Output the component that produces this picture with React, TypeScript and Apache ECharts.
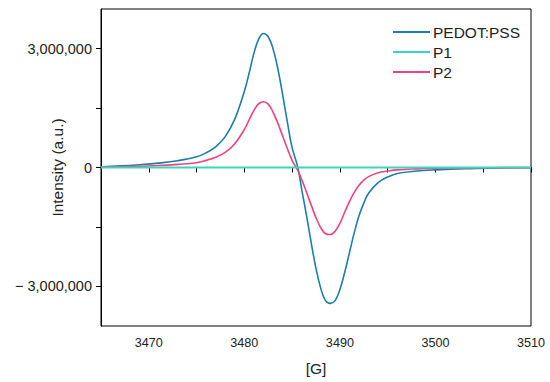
import React, { useEffect, useRef } from "react";
import * as echarts from "echarts";

const fieldG = [
  3465, 3467, 3469, 3471, 3473, 3475, 3476, 3477, 3478, 3479, 3480, 3480.5, 3481, 3481.5, 3482,
  3482.5, 3483, 3483.5, 3484, 3484.5, 3485, 3485.6, 3486, 3486.5, 3487, 3487.5, 3488, 3488.5,
  3489, 3489.5, 3490, 3490.5, 3491, 3491.5, 3492, 3492.5, 3493, 3494, 3495, 3496, 3498, 3500,
  3503, 3506, 3510,
];

// values in millions
const pedotPss = [
  0.02, 0.04, 0.07, 0.11, 0.17, 0.27, 0.37, 0.52, 0.78, 1.22, 1.92, 2.38, 2.88, 3.24, 3.38,
  3.3, 3.0, 2.5, 1.85, 1.15, 0.5, 0.0, -0.55, -1.2, -1.9, -2.55, -3.05, -3.36, -3.43, -3.36,
  -3.08, -2.65, -2.15, -1.65, -1.22, -0.9, -0.65, -0.38, -0.24, -0.15, -0.09, -0.06,
  -0.03, -0.015, -0.005,
];

const p2 = [
  0.01, 0.02, 0.03, 0.05, 0.08, 0.12, 0.18, 0.26, 0.38, 0.6, 0.96, 1.2, 1.44, 1.61, 1.66,
  1.6, 1.4, 1.12, 0.8, 0.48, 0.18, -0.08, -0.3, -0.62, -0.95, -1.27, -1.52, -1.67, -1.69,
  -1.61, -1.41, -1.13, -0.86, -0.63, -0.45, -0.32, -0.23, -0.13, -0.09, -0.06, -0.035,
  -0.02, -0.01, -0.005, 0,
];

const p1 = fieldG.map(() => 0);

const seriesNames = ["PEDOT:PSS", "P1", "P2"];
const xLabels = [3470, 3480, 3490, 3500, 3510];
const xTicks = [3470, 3475, 3480, 3485, 3490, 3495, 3500, 3505, 3510];
const yLabels = [-3000000, 0, 3000000];
const yTicks = [-3000000, -1500000, 0, 1500000, 3000000];

const toPairs = (vals: number[]) => fieldG.map((x, i) => [x, vals[i] * 1e6]);

export default function App() {
  const ref = useRef<HTMLDivElement>(null);
  useEffect(() => {
    if (!ref.current) return;
    const chart = echarts.init(ref.current, null, { renderer: "svg" });
    const font = "'Liberation Sans', Arial, sans-serif";
    chart.setOption({
      animation: false,
      textStyle: { fontFamily: font },
      grid: {
        left: 101,
        right: 19,
        top: 9,
        bottom: 56,
        containLabel: false,
        outerBoundsMode: "none",
        show: true,
        borderColor: "#000",
        borderWidth: 1,
        backgroundColor: "transparent",
      },
      legend: {
        orient: "vertical",
        left: 393,
        top: 24,
        padding: 0,
        itemWidth: 37,
        itemHeight: 2,
        itemGap: 4,
        icon: "rect",
        data: seriesNames,
        textStyle: { fontSize: 15.5, color: "#222", fontFamily: font, padding: [0, 0, 0, -2] },
      },
      xAxis: {
        type: "value",
        min: 3465,
        max: 3510,
        name: "[G]",
        nameLocation: "middle",
        nameGap: 34,
        nameMoveOverlap: false,
        nameTextStyle: { fontSize: 15.5, color: "#222", fontFamily: font },
        axisLine: { show: true, lineStyle: { color: "#000", width: 1 } },
        axisTick: { show: true, length: 5, customValues: xTicks, lineStyle: { color: "#000" } },
        axisLabel: {
          customValues: xLabels,
          fontSize: 12.6,
          color: "#222",
          margin: 10,
          fontFamily: font,
          formatter: (v: number) => String(v),
        },
        splitLine: { show: false },
      },
      yAxis: {
        type: "value",
        min: -4000000,
        max: 4000000,
        name: "Intensity (a.u.)",
        nameLocation: "middle",
        nameGap: 36,
        nameMoveOverlap: false,
        nameTextStyle: { fontSize: 15.5, color: "#222", fontFamily: font },
        axisLine: { show: true, lineStyle: { color: "#000", width: 1 } },
        axisTick: { show: true, length: 5, customValues: yTicks, lineStyle: { color: "#000" } },
        axisLabel: {
          customValues: yLabels,
          fontSize: 14.5,
          color: "#222",
          margin: 9,
          fontFamily: font,
          formatter: (v: number) =>
            v < 0 ? "\u2212 " + Math.abs(v).toLocaleString("en-US") : v.toLocaleString("en-US"),
        },
        splitLine: { show: false },
      },
      series: [
        {
          name: "PEDOT:PSS",
          type: "line",
          data: toPairs(pedotPss),
          smooth: 0.4,
          symbol: "none",
          color: "#1b7eaa",
          lineStyle: { width: 1.6, color: "#1b7eaa" },
          z: 2,
        },
        {
          name: "P1",
          type: "line",
          data: toPairs(p1),
          symbol: "none",
          color: "#3dd3bd",
          lineStyle: { width: 1.8, color: "#3dd3bd" },
          z: 4,
        },
        {
          name: "P2",
          type: "line",
          data: toPairs(p2),
          smooth: 0.4,
          symbol: "none",
          color: "#f0437c",
          lineStyle: { width: 1.6, color: "#f0437c" },
          z: 3,
        },
      ],
    });
    return () => chart.dispose();
  }, []);
  return <div ref={ref} style={{ width: 550, height: 382, position: "absolute", left: 0, top: 0 }} />;
}
